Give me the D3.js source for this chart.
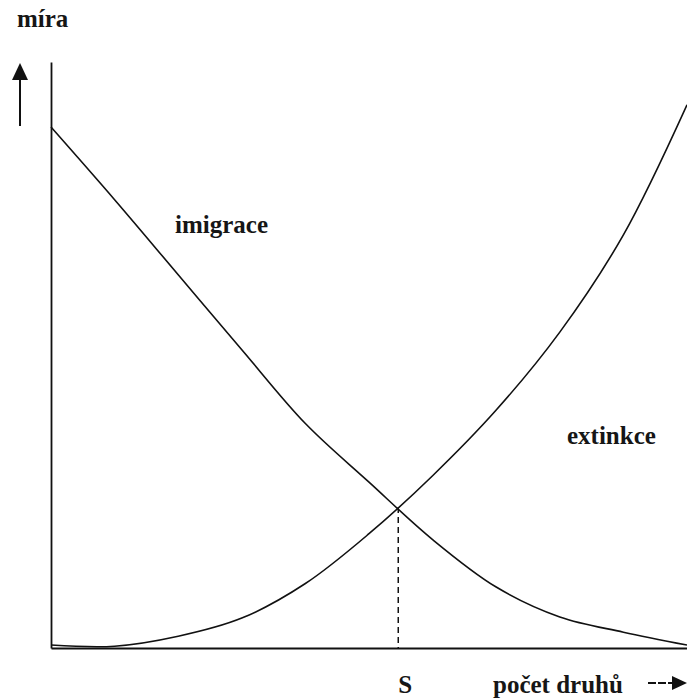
<!DOCTYPE html>
<html>
<head>
<meta charset="utf-8">
<script src="https://cdn.jsdelivr.net/npm/d3@7"></script>
<style>
  body { margin: 0; background: #fff; }
  text { font-family: "Liberation Serif", "DejaVu Serif", serif; font-weight: bold; fill: #161616; }
</style>
</head>
<body>
<div id="chart"></div>
<script>
// species count (x) and rates (y)
var species = [0, 10, 20, 30, 40, 50, 60, 70, 80, 90, 100];
var immigration = [88.9, 76.5, 63.7, 50.9, 38.3, 28.3, 18.5, 10.4, 5.3, 2.7, 0.5];
var extinction = [0.5, 0.3, 2.0, 5.1, 11.0, 19.5, 29.4, 40.6, 53.9, 70.5, 92.7];
var equilibrium = 54.6; // S

var width = 687, height = 698;
var margin = {top: 62, right: 0, bottom: 50, left: 51};

var svg = d3.select("#chart").append("svg")
    .attr("width", width)
    .attr("height", height);

var x = d3.scaleLinear().domain([0, 100]).range([margin.left, width - margin.right]);
var y = d3.scaleLinear().domain([0, 100]).range([height - margin.bottom, margin.top]);

// axes: just the domain lines, no ticks
svg.append("g")
    .attr("transform", "translate(0," + y(0) + ")")
    .call(d3.axisBottom(x).ticks(0).tickSizeOuter(0))
    .select(".domain").attr("stroke", "#111").attr("stroke-width", 1.8);

svg.append("g")
    .attr("transform", "translate(" + x(0) + ",0)")
    .call(d3.axisLeft(y).ticks(0).tickSizeOuter(0))
    .select(".domain").attr("stroke", "#111").attr("stroke-width", 1.8);

var line = d3.line()
    .x(function(d) { return x(d[0]); })
    .y(function(d) { return y(d[1]); })
    .curve(d3.curveCatmullRom.alpha(0.5));

svg.append("path")
    .datum(d3.zip(species, immigration))
    .attr("d", line)
    .attr("fill", "none")
    .attr("stroke", "#111")
    .attr("stroke-width", 1.6);

svg.append("path")
    .datum(d3.zip(species, extinction))
    .attr("d", line)
    .attr("fill", "none")
    .attr("stroke", "#111")
    .attr("stroke-width", 1.6);

// equilibrium point, where the two curves cross
var i = d3.bisectLeft(species, equilibrium);
var t = (equilibrium - species[i - 1]) / (species[i] - species[i - 1]);
var yEq = extinction[i - 1] + t * (extinction[i] - extinction[i - 1]);

svg.append("line")
    .attr("x1", x(equilibrium)).attr("x2", x(equilibrium))
    .attr("y1", y(yEq)).attr("y2", y(0))
    .attr("stroke", "#111")
    .attr("stroke-width", 1.5)
    .attr("stroke-dasharray", "6,4");

// labels
svg.append("text").attr("x", 17).attr("y", 27).style("font-size", "25px").text("míra");
svg.append("text").attr("x", 175).attr("y", 233).style("font-size", "25px").text("imigrace");
svg.append("text").attr("x", 567).attr("y", 444).style("font-size", "25px").text("extinkce");
svg.append("text").attr("x", x(equilibrium) + 7).attr("y", 693)
    .attr("text-anchor", "middle").style("font-size", "25px").text("S");
svg.append("text").attr("x", 493).attr("y", 693).style("font-size", "25px").text("počet druhů");

// y arrow
svg.append("line")
    .attr("x1", 20).attr("x2", 20).attr("y1", 126).attr("y2", 75)
    .attr("stroke", "#111").attr("stroke-width", 2);
svg.append("path")
    .attr("d", "M20,63 L28,80 L12,80 Z")
    .attr("fill", "#111");

// x arrow
svg.append("line")
    .attr("x1", 648).attr("x2", 676).attr("y1", 683).attr("y2", 683)
    .attr("stroke", "#111").attr("stroke-width", 2)
    .attr("stroke-dasharray", "8,2");
svg.append("path")
    .attr("d", "M687,683 L672,676 L672,690 Z")
    .attr("fill", "#111");
</script>
</body>
</html>
